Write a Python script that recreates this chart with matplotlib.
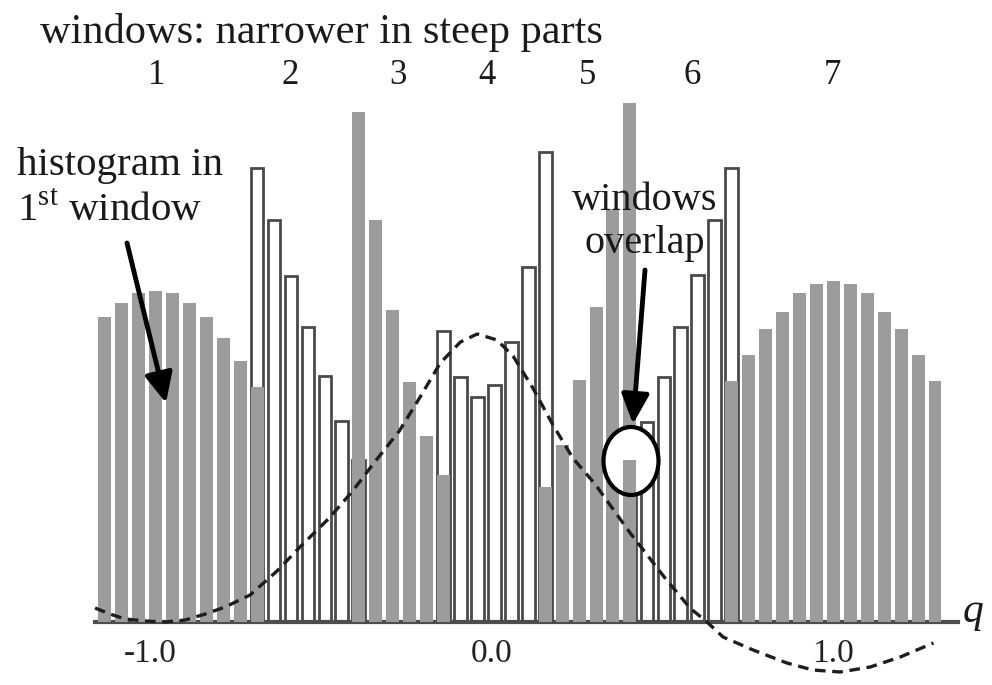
import numpy as np
import matplotlib.pyplot as plt
from matplotlib.patches import Ellipse

plt.rcParams['font.family'] = ['Liberation Serif', 'DejaVu Serif']
plt.rcParams['mathtext.fontset'] = 'custom'
plt.rcParams['mathtext.rm'] = 'Liberation Serif'

# first bin index of each window (windows share one bin with their neighbour)
win_start = [0, 9, 15, 20, 26, 31, 37]

# histogram counts per window; odd windows gray, even windows white
win1 = [61.0, 63.8, 65.8, 66.2, 65.8, 63.8, 61.0, 56.8, 52.2, 47.0]
win2 = [90.8, 80.4, 69.2, 59.0, 49.2, 40.2, 32.4]
win3 = [102.0, 80.4, 62.4, 48.0, 37.2, 29.4]
win4 = [58.2, 49.0, 45.0, 47.4, 56.0, 71.0, 94.0]
win5 = [27.0, 35.4, 48.4, 63.0, 82.4, 103.8]
win6 = [32.4, 40.0, 49.0, 59.0, 69.4, 80.4, 90.8]
win7 = [48.2, 53.4, 58.6, 62.0, 65.8, 67.6, 68.2, 67.6, 65.8, 62.0, 58.6, 53.4, 48.2]
windows = [win1, win2, win3, win4, win5, win6, win7]

# free-energy profile (dashed), q and scaled value
curve_q = [-1.161, -1.117, -1.073, -1.015, -0.956, -0.897, -0.838, -0.780,
           -0.707, -0.628, -0.558, -0.478, -0.409, -0.342, -0.270, -0.209,
           -0.150, -0.091, -0.042, 0.016, 0.063, 0.121, 0.180, 0.238,
           0.303, 0.406, 0.508, 0.581, 0.631, 0.678, 0.766, 0.865,
           0.941, 1.021, 1.109, 1.197, 1.294]
curve_v = [2.8, 1.6, 0.6, 0.2, 0.0, 0.4, 1.6, 3.0,
           5.4, 10.2, 15.2, 20.6, 26.0, 32.0, 38.2, 45.0,
           51.8, 56.0, 57.6, 56.4, 53.2, 46.8, 39.4, 32.8,
           27.6, 17.8, 8.8, 2.8, 0.0, -3.0, -5.6, -8.2,
           -9.6, -10.0, -9.0, -7.0, -4.2]

bin_q0 = -1.1332
bin_dq = 0.04963
gray = '#9c9c9c'

fig = plt.figure(figsize=(9.92, 6.85), dpi=100)
ax = fig.add_axes([95 / 992, 63 / 685, 863 / 992, 622 / 685])

for i, (start, counts) in enumerate(zip(win_start, windows)):
    q = bin_q0 + bin_dq * (start + np.arange(len(counts)))
    if i % 2 == 0:
        ax.bar(q, counts, width=0.038, color=gray, linewidth=0, zorder=3)
    else:
        ax.bar(q, counts, width=0.037, facecolor='white', edgecolor='#4a4a4a',
               linewidth=2, zorder=2)

ax.plot(curve_q, curve_v, color='#1e1e1e', lw=2.4, linestyle=(0, (3.2, 2.0)),
        clip_on=False, zorder=5)

ax.set_xlim(-1.1611, 1.3660)
ax.set_ylim(0, 124.4)
for side in ['top', 'left', 'right']:
    ax.spines[side].set_visible(False)
ax.spines['bottom'].set_linewidth(3)
ax.spines['bottom'].set_color('#4d4d4d')
ax.set_yticks([])
ax.set_xticks([-1, 0, 1])
ax.set_xticklabels(['-1.0', '0.0', '1.0'])
ax.tick_params(axis='x', length=0, pad=12, labelsize=24, colors='#222222')
ax.patch.set_alpha(0)


def fp(x, y):
    return (x / 992, 1 - y / 685)


fig.text(*fp(40, 32), 'windows: narrower in steep parts', fontsize=30.5,
         ha='left', va='center', color='#1a1a1a')
for lab, x in zip(['1', '2', '3', '4', '5', '6', '7'],
                  [157, 290, 398, 487, 588, 692, 832]):
    fig.text(*fp(x, 76), lab, fontsize=25, ha='center', va='center',
             color='#1a1a1a')

fig.text(*fp(120, 166), 'histogram in', fontsize=29.5, ha='center',
         va='center', color='#1a1a1a')
fig.text(*fp(110, 211), '1$^{\\rm st}$ window', fontsize=29.5, ha='center',
         va='center', color='#1a1a1a')
fig.text(*fp(645, 200), 'windows', fontsize=29, ha='center', va='center',
         color='#1a1a1a')
fig.text(*fp(645, 243), 'overlap', fontsize=29, ha='center', va='center',
         color='#1a1a1a')
fig.text(*fp(973, 612), 'q', fontsize=30, style='italic', ha='center',
         va='center', color='#1a1a1a')

arrow = dict(arrowstyle='-|>,head_length=0.9,head_width=0.42', lw=3.5,
             color='black', shrinkA=0, shrinkB=0, mutation_scale=20)
ax.annotate('', xy=fp(166, 403), xytext=fp(127, 243),
            xycoords='figure fraction', arrowprops=arrow, zorder=6)
ax.annotate('', xy=fp(633, 424), xytext=fp(645, 270),
            xycoords='figure fraction', arrowprops=arrow, zorder=6)

# overlap bin shown inside a ring: ring face blanks the taller bar,
# then the window-6 count in the shared bin is drawn on top
ring_fill = Ellipse(fp(631, 461), 55 / 992, 68 / 685,
                    transform=fig.transFigure, facecolor='white',
                    edgecolor='none', zorder=4)
ax.add_artist(ring_fill)
q_shared = bin_q0 + bin_dq * win_start[5]
ax.bar([q_shared], [win6[0]], width=0.038, color=gray, linewidth=0,
       zorder=4.5)
ring = Ellipse(fp(631, 461), 55 / 992, 68 / 685, transform=fig.transFigure,
               fill=False, lw=3, edgecolor='black', zorder=6)
ax.add_artist(ring)

fig.savefig('out.png', dpi=100)
